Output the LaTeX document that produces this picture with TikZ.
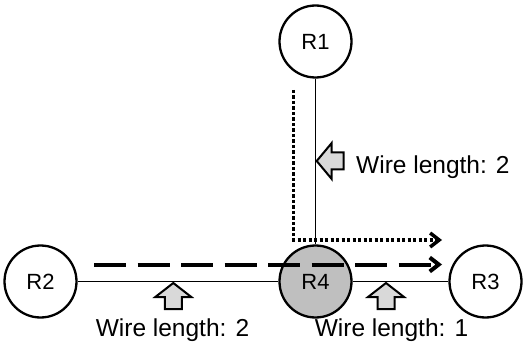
\documentclass[tikz,border=0pt]{standalone}
\usepackage{fontspec}
\setmainfont{Liberation Sans}
\usetikzlibrary{arrows.meta}
\begin{document}
\begin{tikzpicture}[x=1pt,y=-1pt,
  router/.style={circle,draw,line width=2.3pt,minimum size=72pt,inner sep=0pt,font=\fontsize{22}{22}\selectfont},
  wire/.style={line width=1.8pt},
  lbl/.style={inner sep=0pt,font=\fontsize{24.5}{24.5}\selectfont},
  blockarrow/.style={fill=gray!30,draw,line width=2pt,line join=miter},
  chev/.style={-{Straight Barb[length=9pt,width=14pt]}, line width=3.8pt}
]
\useasboundingbox (0,0) rectangle (523,345);
\node[router] (R1) at (315.5,41.5) {R1};
\node[router] (R2) at (40.5,281.5) {R2};
\node[router,fill=gray!50] (R4) at (315.5,281.5) {R4};
\node[router] (R3) at (485.5,281.5) {R3};
\draw[wire] (R1) -- (R4);
\draw[wire] (R2) -- (R4);
\draw[wire] (R4) -- (R3);
% dashed route
\coordinate (dS) at (94,264.5);
\coordinate (dE) at (442,264.5);
\draw[chev, line width=4pt, dash pattern=on 32pt off 11.5pt] (dS) -- (dE);
% dotted route
\coordinate (tS) at (293.5,90);
\coordinate (tC) at (293.5,240);
\coordinate (tE) at (442,240);
\draw[chev, line width=3.5pt, dash pattern=on 3.3pt off 2.2pt] (tS) -- (tC) -- (tE);
% block arrows
\coordinate (aV) at (316.7,161);
\draw[blockarrow] (aV) -- ++(15,-18) -- ++(0,9.5) -- ++(12,0) -- ++(0,17) -- ++(-12,0) -- ++(0,9.5) -- cycle;
\coordinate (aL) at (173.3,283);
\draw[blockarrow] (aL) -- ++(18,14) -- ++(-9.5,0) -- ++(0,12) -- ++(-17,0) -- ++(0,-12) -- ++(-9.5,0) -- cycle;
\coordinate (aR) at (386,283);
\draw[blockarrow] (aR) -- ++(18,14) -- ++(-9.5,0) -- ++(0,12) -- ++(-17,0) -- ++(0,-12) -- ++(-9.5,0) -- cycle;
% labels
\node[lbl,anchor=base west] (L1) at (356,173) {Wire length: 2};
\node[lbl,anchor=base] (L2) at (172.5,336) {Wire length: 2};
\node[lbl,anchor=base] (L3) at (391.5,336) {Wire length: 1};
\end{tikzpicture}
\end{document}
